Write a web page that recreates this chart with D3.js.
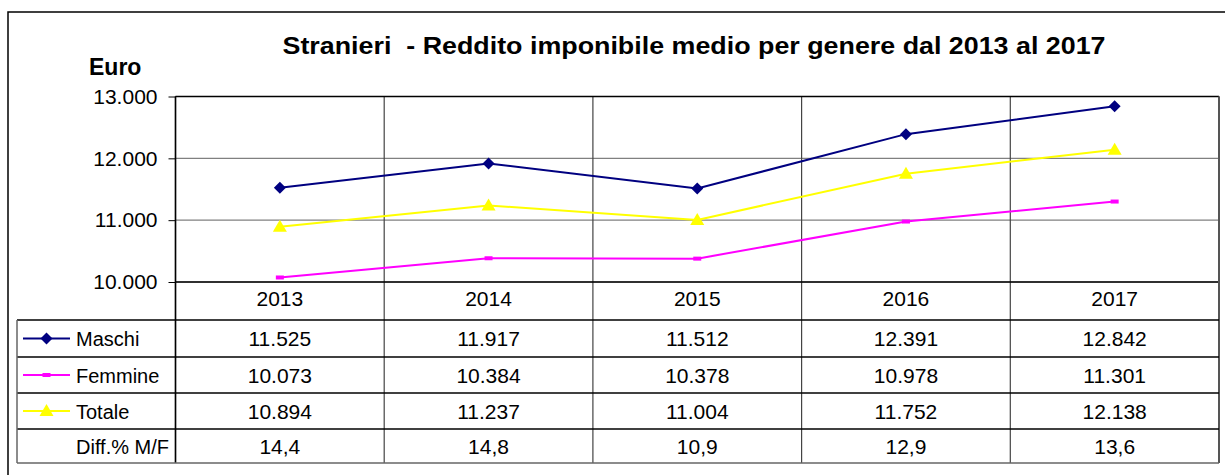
<!DOCTYPE html>
<html><head><meta charset="utf-8">
<script src="https://cdn.jsdelivr.net/npm/d3@7"></script>
<style>body{margin:0;background:#fff}svg{display:block;font-family:"Liberation Sans",Arial,sans-serif}</style>
</head><body><svg id="c" width="1225" height="475"></svg>
<script>
const years = ["2013","2014","2015","2016","2017"];
const maschi = [11525, 11917, 11512, 12391, 12842];
const femmine = [10073, 10384, 10378, 10978, 11301];
const totale = [10894, 11237, 11004, 11752, 12138];
const diff = [14.4, 14.8, 10.9, 12.9, 13.6];
const yTicks = [10000, 11000, 12000, 13000];
const seriesNames = ["Maschi", "Femmine", "Totale"];
const seriesColors = ["#000080", "#FF00FF", "#FFFF00"];

const loc = d3.formatLocale({decimal: ",", thousands: ".", grouping: [3], currency: ["€", ""]});
const fmtInt = loc.format(",.0f");
const fmtDec = loc.format(".1f");

const svg = d3.select("#c");
const L = 175.5, R = 1219, T = 96.5, B = 282;
const x = d3.scaleBand().domain(years).range([L, R]).padding(0);
const y = d3.scaleLinear().domain([10000, 13000]).range([B, T]);

// outer frame
svg.append("rect").attr("x", 8).attr("y", 12).attr("width", 1250).attr("height", 500)
  .attr("fill", "none").attr("stroke", "#000").attr("stroke-width", 1.5);

// title
svg.append("text").attr("x", 694).attr("y", 54).attr("text-anchor", "middle")
  .attr("font-size", 23).attr("font-weight", "bold").style("white-space", "pre")
  .attr("textLength", 823).attr("lengthAdjust", "spacingAndGlyphs")
  .text("Stranieri  - Reddito imponibile medio per genere dal 2013 al 2017");
svg.append("text").attr("x", 89).attr("y", 75).attr("font-size", 23).attr("font-weight", "bold").text("Euro");

// horizontal gridlines
svg.append("g").selectAll("line").data(yTicks).join("line")
  .attr("x1", L).attr("x2", R).attr("y1", d => y(d)).attr("y2", d => y(d))
  .attr("stroke", "#808080").attr("stroke-width", 1.2);

// y axis
const yAxis = d3.axisLeft(y).tickValues(yTicks).tickFormat(fmtInt).tickSize(7).tickPadding(11);
const ga = svg.append("g").attr("transform", `translate(${L},0)`).call(yAxis);
ga.select(".domain").remove();
ga.selectAll("line").attr("stroke", "#000");
ga.selectAll("text").attr("font-size", 21).attr("font-family", "Liberation Sans, Arial, sans-serif").attr("fill", "#000");

// table geometry
const TL = 17, rowTops = [320, 357, 393, 429, 463];
// vertical category boundaries across plot + header + table
const bounds = years.map(d => x(d)).concat([R]);
svg.append("g").selectAll("line").data(bounds).join("line")
  .attr("x1", d => d).attr("x2", d => d).attr("y1", T).attr("y2", rowTops[4])
  .attr("stroke", (d, i) => (i === 0 || i === bounds.length - 1) ? "#000" : "#444").attr("stroke-width", 1.2);
// plot frame
svg.append("line").attr("x1", L).attr("x2", R).attr("y1", T).attr("y2", T).attr("stroke", "#000").attr("stroke-width", 1.5);
svg.append("line").attr("x1", L).attr("x2", R).attr("y1", B).attr("y2", B).attr("stroke", "#000").attr("stroke-width", 1.5);
svg.append("line").attr("x1", L).attr("x2", L).attr("y1", T).attr("y2", rowTops[4]).attr("stroke", "#000").attr("stroke-width", 1.5);
svg.append("line").attr("x1", R).attr("x2", R).attr("y1", T).attr("y2", rowTops[4]).attr("stroke", "#555").attr("stroke-width", 2);

// table rows
svg.append("g").selectAll("line").data(rowTops).join("line")
  .attr("x1", TL).attr("x2", R).attr("y1", d => d).attr("y2", d => d)
  .attr("stroke", (d, i) => i === rowTops.length - 1 ? "#666" : "#000").attr("stroke-width", 1.3);
svg.append("line").attr("x1", TL).attr("x2", TL).attr("y1", rowTops[0]).attr("y2", rowTops[4]).attr("stroke", "#666").attr("stroke-width", 1.5);

// header category labels
svg.append("g").selectAll("text").data(years).join("text")
  .attr("x", d => x(d) + x.bandwidth() / 2).attr("y", 306).attr("text-anchor", "middle")
  .attr("font-size", 21).text(d => d);

// lines & markers
const data = [maschi, femmine, totale];
const line = d3.line().x((d, i) => x(years[i]) + x.bandwidth() / 2).y(d => y(d));
data.forEach((vals, s) => {
  svg.append("path").datum(vals).attr("d", line).attr("fill", "none")
    .attr("stroke", seriesColors[s]).attr("stroke-width", 2);
});
function marker(g, s, cx, cy) {
  if (s === 0) {
    g.append("path").attr("d", `M${cx},${cy - 6}L${cx + 6},${cy}L${cx},${cy + 6}L${cx - 6},${cy}Z`).attr("fill", seriesColors[0]);
  } else if (s === 1) {
    g.append("rect").attr("x", cx - 4).attr("y", cy - 2).attr("width", 8).attr("height", 4).attr("fill", seriesColors[1]);
  } else {
    g.append("path").attr("d", `M${cx},${cy - 7}L${cx + 7},${cy + 5}L${cx - 7},${cy + 5}Z`).attr("fill", seriesColors[2]);
  }
}
const mg = svg.append("g");
data.forEach((vals, s) => vals.forEach((v, i) => marker(mg, s, x(years[i]) + x.bandwidth() / 2, y(v))));

// table contents
const rows = [maschi.map(fmtInt), femmine.map(fmtInt), totale.map(fmtInt), diff.map(fmtDec)];
const rowLabels = seriesNames.concat(["Diff.% M/F"]);
rows.forEach((r, ri) => {
  const cy = (rowTops[ri] + rowTops[ri + 1]) / 2;
  r.forEach((t, i) => {
    svg.append("text").attr("x", x(years[i]) + x.bandwidth() / 2).attr("y", cy + 7.5)
      .attr("text-anchor", "middle").attr("font-size", 21).text(t);
  });
  svg.append("text").attr("x", 76).attr("y", cy + 7.5).attr("font-size", 20).text(rowLabels[ri]);
  if (ri < 3) {
    svg.append("line").attr("x1", 23).attr("x2", 70).attr("y1", cy).attr("y2", cy)
      .attr("stroke", seriesColors[ri]).attr("stroke-width", 2);
    marker(svg, ri, 46.5, cy);
  }
});
</script></body></html>
